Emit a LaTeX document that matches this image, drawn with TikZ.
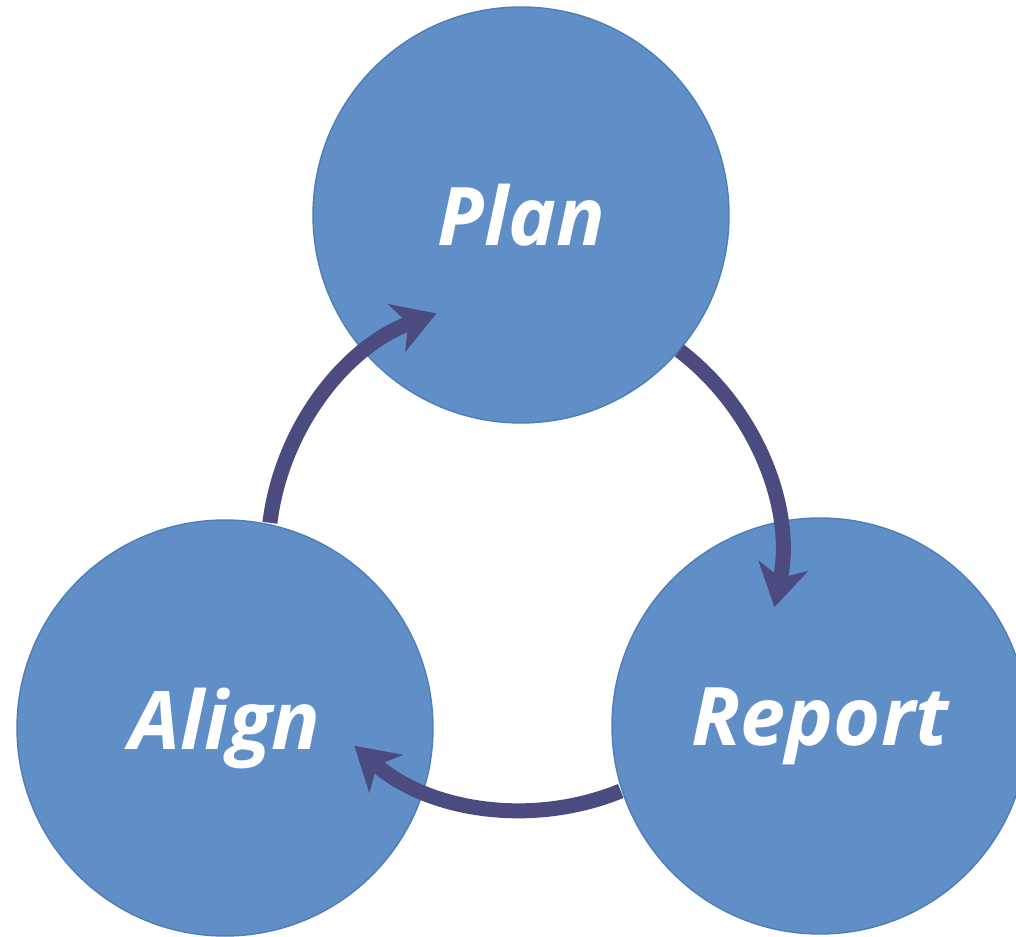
\documentclass[tikz,border=0pt]{standalone}
\usepackage{fontspec}
\newfontfamily\stagefont{Open Sans}
\usepackage{xcolor}
\usetikzlibrary{arrows.meta,calc}
\definecolor{stageblue}{HTML}{5F8FC6}
\definecolor{stageedge}{HTML}{4F7EB6}
\definecolor{cyclenavy}{HTML}{4B4B7F}
\tikzset{
  stage/.style={circle, fill=stageblue, draw=stageedge, line width=0.8pt,
    minimum size=83.2mm, inner sep=0pt, text=white,
    font=\stagefont\bfseries\itshape\fontsize{46}{50}\selectfont},
  cycarrow/.style={-{Stealth[length=8.4mm, width=10mm, inset=2.4mm]},
    line width=3mm, cyclenavy}
}
\begin{document}
\begin{tikzpicture}[x=0.2mm, y=0.2mm]
\useasboundingbox (0,0) rectangle (1016,936);
% STAGES
\node[stage] (plan) at (521,721) {Plan};
\node[stage] (align) at (225,208) {Align};
\node[stage] (report) at (820,210) {Report};
% CYCLE: the three arrows lie on one ring
\coordinate (ring) at (524,382);
\coordinate (alignOut) at ($(ring)+(173:256)$);
\coordinate (planOut) at ($(ring)+(52.6:256)$);
\coordinate (reportOut) at ($(ring)+(-67.8:256)$);
\draw[cycarrow] (alignOut) arc[start angle=173, end angle=110, radius=256];
\draw[cycarrow] (planOut) arc[start angle=52.6, end angle=-12, radius=256];
\draw[cycarrow] (reportOut) arc[start angle=-67.8, end angle=-131.5, radius=256];
\end{tikzpicture}
\end{document}
